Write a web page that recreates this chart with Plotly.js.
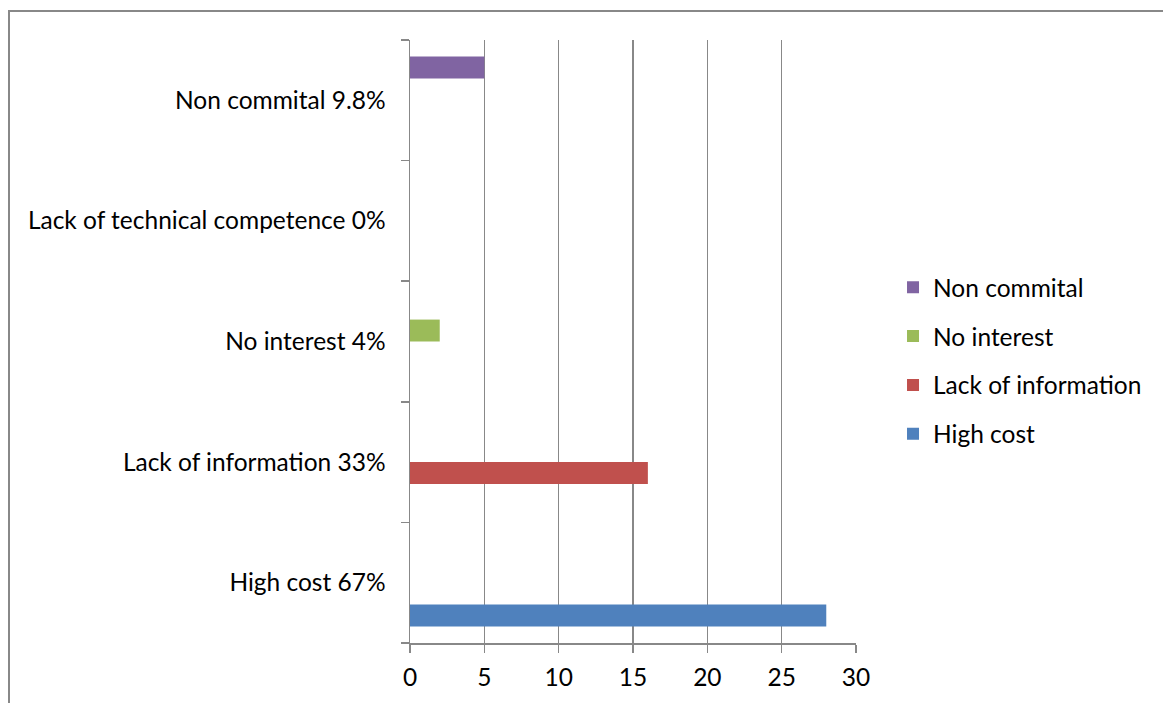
<!DOCTYPE html>
<html>
<head>
<meta charset="utf-8">
<script src="https://cdn.plot.ly/plotly-3.0.1.min.js"></script>
<style>
  html, body { margin: 0; padding: 0; background: #fff; }
  #wrap { position: relative; width: 1163px; height: 703px; }
  #chart { position: absolute; left: 0; top: 0; width: 1163px; height: 703px; }
  #frame { position: absolute; left: 8px; top: 10px; right: -4px; bottom: -4px;
           border-left: 2px solid #888; border-top: 2px solid #888; pointer-events: none; }
</style>
</head>
<body>
<div id="wrap">
  <div id="chart"></div>
  <div id="frame"></div>
</div>
<script>
// Reasons given, bottom to top on the category axis
const categories = [
  'High cost 67%',
  'Lack of information 33%',
  'No interest 4%',
  'Lack of technical competence 0%',
  'Non commital 9.8%'
];

// One series per reason; each only has a value in its own row
const seriesNames = ['High cost', 'Lack of information', 'No interest', 'Non commital'];
const highCost          = [28, null, null, null, null];
const lackOfInformation = [null, 16, null, null, null];
const noInterest        = [null, null, 2, null, null];
const nonCommital       = [null, null, null, null, 5];
const seriesValues = [highCost, lackOfInformation, noInterest, nonCommital];
const seriesColors = ['#4F81BD', '#C0504D', '#9BBB59', '#8064A2'];

const xTicks = [0, 5, 10, 15, 20, 25, 30];

const font = 'Lato, "Open Sans", sans-serif';
const fontSize = 24.5;

// Legend lists the series top-down in the same order as the bars appear
const traces = seriesNames.map((name, i) => ({
  type: 'bar',
  orientation: 'h',
  name: name,
  legendgroup: name,
  legendrank: (seriesNames.length - i) * 10,
  x: seriesValues[i],
  y: categories,
  marker: { color: seriesColors[i], line: { width: 0 } },
  hoverinfo: 'x+name'
}));

const layout = {
  width: 1163,
  height: 703,
  margin: { l: 410, r: 307, t: 40, b: 60, pad: 0, autoexpand: false },
  paper_bgcolor: '#ffffff',
  plot_bgcolor: '#ffffff',
  barmode: 'group',
  bargap: 0.273,
  bargroupgap: 0,
  font: { family: font, size: fontSize, color: '#000' },
  xaxis: {
    range: [0, 30],
    tickvals: xTicks,
    ticktext: xTicks.map(String),
    showgrid: true,
    gridcolor: '#888',
    gridwidth: 1.5,
    zeroline: false,
    showline: true,
    linecolor: '#888',
    linewidth: 1.5,
    ticks: 'outside',
    ticklen: 8,
    tickwidth: 1.5,
    tickcolor: '#888',
    ticklabelstandoff: 4,
    tickfont: { family: font, size: fontSize, color: '#000' },
    automargin: false,
    fixedrange: true
  },
  yaxis: {
    type: 'category',
    categoryorder: 'array',
    categoryarray: categories,
    showgrid: false,
    zeroline: false,
    showline: true,
    linecolor: '#888',
    linewidth: 1.5,
    ticks: 'outside',
    tickson: 'boundaries',
    ticklen: 8,
    tickwidth: 1.5,
    tickcolor: '#888',
    ticklabelstandoff: 18,
    tickfont: { family: font, size: fontSize, color: '#000' },
    automargin: false,
    fixedrange: true
  },
  showlegend: true,
  legend: {
    x: 1.083,
    y: 0.468,
    xanchor: 'left',
    yanchor: 'middle',
    traceorder: 'grouped',
    tracegroupgap: 14,
    itemwidth: 30,
    font: { family: font, size: fontSize, color: '#000' },
    bgcolor: 'rgba(0,0,0,0)'
  }
};

Plotly.newPlot('chart', traces, layout, { displayModeBar: false, staticPlot: true });
</script>
</body>
</html>
